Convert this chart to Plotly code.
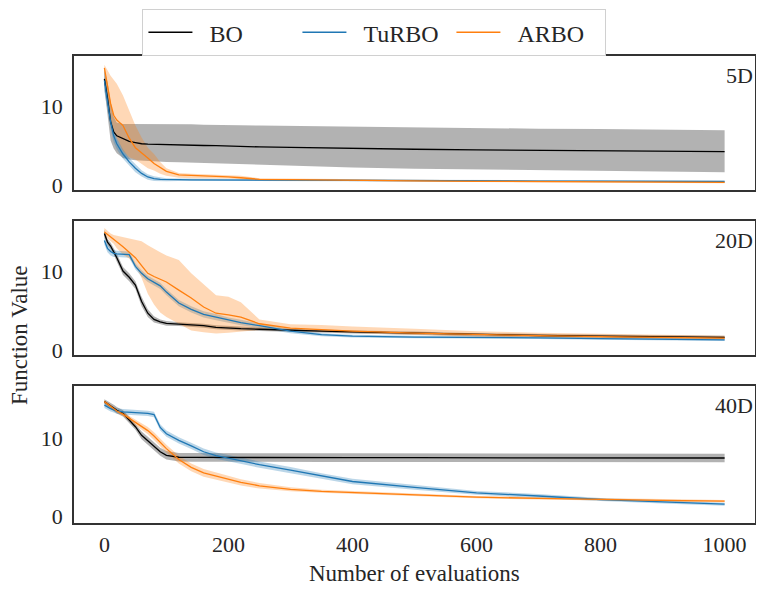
import plotly.graph_objects as go

# evaluation grid shared by all curves
evals = [0, 5, 10, 15, 20, 30, 40, 50, 60, 70, 80, 90, 100, 120, 140, 160, 180, 200,
         220, 250, 300, 350, 400, 500, 600, 700, 800, 900, 1000]

# ---- 5D ----
bo_5d = [13.4, 11.0, 8.0, 6.7, 6.2, 5.9, 5.5, 5.35, 5.2, 5.15, 5.12, 5.1, 5.08, 5.05, 5.0, 4.98, 4.95, 4.9,
         4.85, 4.8, 4.75, 4.68, 4.6, 4.5, 4.43, 4.35, 4.3, 4.25, 4.2]
bo_5d_hi = [14.6, 13.0, 10.5, 8.6, 7.9, 7.7, 7.7, 7.7, 7.7, 7.7, 7.7, 7.7, 7.7, 7.7, 7.65, 7.6, 7.6, 7.6,
            7.55, 7.5, 7.45, 7.4, 7.35, 7.3, 7.2, 7.1, 7.05, 7.0, 6.9]
bo_5d_lo = [12.2, 9.0, 5.6, 4.6, 4.0, 3.4, 3.2, 3.1, 3.05, 3.0, 2.95, 2.9, 2.9, 2.85, 2.8, 2.75, 2.7, 2.65,
            2.6, 2.5, 2.4, 2.3, 2.2, 2.05, 1.95, 1.85, 1.75, 1.65, 1.6]
turbo_5d = [13.2, 10.3, 8.0, 6.2, 5.2, 3.9, 2.9, 2.1, 1.45, 1.0, 0.8, 0.7, 0.66, 0.65, 0.64, 0.63, 0.62, 0.62,
            0.6, 0.6, 0.58, 0.56, 0.55, 0.52, 0.5, 0.48, 0.46, 0.44, 0.42]
turbo_5d_hi = [14.8, 11.3, 8.9, 7.0, 5.9, 4.5, 3.4, 2.6, 1.85, 1.35, 1.1, 0.95, 0.85, 0.8, 0.78, 0.76, 0.75, 0.74,
               0.72, 0.71, 0.69, 0.67, 0.66, 0.63, 0.61, 0.59, 0.57, 0.55, 0.53]
turbo_5d_lo = [11.8, 9.3, 7.1, 5.4, 4.5, 3.3, 2.4, 1.6, 1.05, 0.65, 0.5, 0.45, 0.46, 0.5, 0.5, 0.5, 0.5, 0.5,
               0.48, 0.49, 0.47, 0.45, 0.44, 0.41, 0.39, 0.37, 0.35, 0.33, 0.31]
arbo_5d = [14.8, 12.4, 10.3, 8.8, 8.2, 7.5, 5.9, 4.7, 4.1, 3.4, 2.7, 2.2, 1.7, 1.25, 1.2, 1.15, 1.1, 1.02,
           0.9, 0.7, 0.67, 0.65, 0.6, 0.5, 0.45, 0.4, 0.36, 0.33, 0.3]
arbo_5d_hi = [15.2, 14.5, 13.8, 13.3, 12.8, 11.3, 9.5, 7.5, 6.0, 4.7, 3.9, 2.9, 2.1, 1.5, 1.4, 1.35, 1.3, 1.25,
              1.15, 0.85, 0.8, 0.78, 0.73, 0.63, 0.57, 0.52, 0.48, 0.45, 0.42]
arbo_5d_lo = [14.0, 10.5, 8.0, 6.9, 6.0, 4.3, 3.5, 3.2, 2.6, 2.1, 1.8, 1.4, 1.15, 0.9, 0.85, 0.85, 0.82, 0.8,
              0.7, 0.55, 0.55, 0.53, 0.48, 0.4, 0.35, 0.3, 0.26, 0.23, 0.2]

# ---- 20D ----
bo_20d = [14.9, 13.8, 13.3, 12.6, 11.8, 10.1, 9.3, 8.3, 6.2, 4.7, 3.9, 3.6, 3.4, 3.3, 3.2, 3.1, 2.9, 2.8,
          2.72, 2.65, 2.5, 2.4, 2.3, 2.15, 1.95, 1.85, 1.75, 1.65, 1.6]
bo_20d_hi = [15.4, 14.2, 13.7, 13.0, 12.3, 10.6, 9.8, 8.8, 6.8, 5.2, 4.3, 3.9, 3.7, 3.55, 3.45, 3.35, 3.15, 3.05,
             2.95, 2.88, 2.72, 2.6, 2.5, 2.35, 2.15, 2.05, 1.95, 1.85, 1.8]
bo_20d_lo = [14.4, 13.4, 12.9, 12.2, 11.3, 9.6, 8.8, 7.8, 5.6, 4.2, 3.5, 3.3, 3.1, 3.05, 2.95, 2.85, 2.65, 2.55,
             2.5, 2.42, 2.3, 2.2, 2.1, 1.95, 1.75, 1.65, 1.55, 1.45, 1.4]
turbo_20d = [14.0, 13.0, 12.6, 12.35, 12.3, 12.25, 12.2, 10.7, 9.8, 9.1, 8.6, 8.2, 7.4, 6.0, 5.2, 4.55, 4.2, 3.8,
             3.5, 3.1, 2.4, 1.95, 1.78, 1.65, 1.62, 1.55, 1.45, 1.35, 1.3]
turbo_20d_hi = [14.5, 13.5, 13.1, 12.8, 12.7, 12.65, 12.6, 11.1, 10.2, 9.5, 9.0, 8.6, 7.8, 6.4, 5.6, 4.95, 4.6, 4.15,
                3.85, 3.4, 2.65, 2.15, 1.95, 1.82, 1.78, 1.7, 1.6, 1.5, 1.45]
turbo_20d_lo = [13.5, 12.5, 12.1, 11.9, 11.9, 11.85, 11.8, 10.3, 9.4, 8.7, 8.2, 7.8, 7.0, 5.6, 4.8, 4.15, 3.8, 3.45,
                3.15, 2.8, 2.15, 1.75, 1.6, 1.48, 1.46, 1.4, 1.3, 1.2, 1.15]
arbo_20d = [15.1, 14.8, 14.5, 14.1, 13.8, 13.2, 12.5, 11.8, 10.8, 9.8, 9.4, 9.1, 8.7, 7.65, 6.65, 5.5, 4.7, 4.5,
            4.2, 3.35, 2.8, 2.6, 2.4, 2.15, 1.95, 1.82, 1.7, 1.6, 1.5]
arbo_20d_hi = [15.6, 15.2, 14.9, 14.7, 14.6, 14.4, 14.2, 14.1, 13.9, 13.4, 12.9, 12.5, 12.1, 11.5, 9.8, 8.4, 7.0, 6.8,
               6.1, 3.9, 3.3, 3.2, 3.0, 2.7, 2.4, 2.2, 2.05, 1.9, 1.8]
arbo_20d_lo = [14.6, 14.3, 14.0, 13.6, 13.0, 12.2, 11.7, 10.8, 9.2, 7.2, 5.8, 4.8, 4.2, 3.4, 2.5, 2.25, 2.1, 2.2,
               2.35, 2.55, 2.45, 2.3, 2.15, 1.9, 1.7, 1.6, 1.5, 1.4, 1.3]

# ---- 40D ----
bo_40d = [14.7, 14.4, 14.2, 13.9, 13.6, 13.2, 12.4, 11.5, 10.4, 9.7, 9.0, 8.3, 7.85, 7.6, 7.58, 7.57, 7.56, 7.56,
          7.55, 7.55, 7.55, 7.55, 7.55, 7.54, 7.53, 7.52, 7.52, 7.51, 7.5]
bo_40d_hi = [15.0, 14.8, 14.6, 14.3, 14.0, 13.6, 12.8, 11.9, 10.9, 10.2, 9.5, 8.8, 8.4, 8.15, 8.13, 8.12, 8.11, 8.11,
             8.1, 8.1, 8.1, 8.1, 8.1, 8.09, 8.08, 8.07, 8.07, 8.06, 8.05]
bo_40d_lo = [14.4, 14.0, 13.8, 13.5, 13.2, 12.8, 12.0, 11.1, 9.9, 9.2, 8.5, 7.8, 7.3, 7.05, 7.03, 7.02, 7.01, 7.01,
             7.0, 7.0, 7.0, 7.0, 7.0, 6.99, 6.98, 6.97, 6.97, 6.96, 6.95]
turbo_40d = [14.25, 14.0, 13.8, 13.65, 13.5, 13.4, 13.35, 13.3, 13.25, 13.2, 13.05, 11.4, 10.6, 9.75, 9.05, 8.3, 7.8,
             7.45, 7.1, 6.65, 5.95, 5.2, 4.5, 3.75, 3.05, 2.65, 2.2, 1.9, 1.6]
turbo_40d_hi = [14.6, 14.35, 14.15, 14.0, 13.85, 13.75, 13.7, 13.65, 13.6, 13.55, 13.4, 11.8, 11.0, 10.15, 9.45, 8.7,
                8.2, 7.85, 7.5, 7.05, 6.35, 5.55, 4.85, 4.05, 3.3, 2.9, 2.4, 2.1, 1.8]
turbo_40d_lo = [13.9, 13.65, 13.45, 13.3, 13.15, 13.05, 13.0, 12.95, 12.9, 12.85, 12.7, 11.0, 10.2, 9.35, 8.65, 7.9,
                7.4, 7.05, 6.7, 6.25, 5.55, 4.85, 4.15, 3.45, 2.8, 2.4, 2.0, 1.7, 1.4]
arbo_40d = [14.7, 14.4, 14.0, 13.75, 13.5, 13.1, 12.6, 12.1, 11.6, 11.0, 10.3, 9.5, 8.7, 7.3, 6.3, 5.6, 5.2, 4.8,
            4.4, 3.95, 3.5, 3.25, 3.1, 2.8, 2.5, 2.35, 2.2, 2.1, 2.0]
arbo_40d_hi = [14.9, 14.6, 14.2, 13.95, 13.7, 13.35, 12.9, 12.45, 12.0, 11.45, 10.8, 10.0, 9.2, 7.8, 6.8, 6.1, 5.65,
               5.25, 4.8, 4.3, 3.75, 3.45, 3.3, 2.95, 2.65, 2.5, 2.35, 2.25, 2.15]
arbo_40d_lo = [14.5, 14.2, 13.8, 13.55, 13.3, 12.85, 12.3, 11.75, 11.2, 10.55, 9.8, 9.0, 8.2, 6.8, 5.8, 5.1, 4.75,
               4.35, 4.0, 3.6, 3.25, 3.05, 2.9, 2.65, 2.35, 2.2, 2.05, 1.95, 1.85]

panel_names = ["5D", "20D", "40D"]
x_ticks = [0, 200, 400, 600, 800, 1000]
y_ticks = [0, 10]

colors = {"BO": "#000000", "TuRBO": "#1f77b4", "ARBO": "#ff7f0e"}
bands = {"BO": "rgba(0,0,0,0.3)", "TuRBO": "rgba(31,119,180,0.3)", "ARBO": "rgba(255,127,14,0.3)"}

panels = [
    {"BO": (bo_5d, bo_5d_lo, bo_5d_hi), "TuRBO": (turbo_5d, turbo_5d_lo, turbo_5d_hi),
     "ARBO": (arbo_5d, arbo_5d_lo, arbo_5d_hi)},
    {"BO": (bo_20d, bo_20d_lo, bo_20d_hi), "TuRBO": (turbo_20d, turbo_20d_lo, turbo_20d_hi),
     "ARBO": (arbo_20d, arbo_20d_lo, arbo_20d_hi)},
    {"BO": (bo_40d, bo_40d_lo, bo_40d_hi), "TuRBO": (turbo_40d, turbo_40d_lo, turbo_40d_hi),
     "ARBO": (arbo_40d, arbo_40d_lo, arbo_40d_hi)},
]

FONT = "Liberation Serif, DejaVu Serif, serif"
TXT = "#262626"
PAD = "\u00a0\u00a0"  # gap between legend line and its label

fig = go.Figure()

for i, data in enumerate(panels):
    xa = "x" if i == 0 else f"x{i + 1}"
    ya = "y" if i == 0 else f"y{i + 1}"
    # shaded bands first
    for name in ["BO", "TuRBO", "ARBO"]:
        mean, lo, hi = data[name]
        fig.add_trace(go.Scatter(x=evals, y=hi, xaxis=xa, yaxis=ya, mode="lines",
                                 line=dict(width=0), showlegend=False, hoverinfo="skip"))
        fig.add_trace(go.Scatter(x=evals, y=lo, xaxis=xa, yaxis=ya, mode="lines",
                                 line=dict(width=0), fill="tonexty", fillcolor=bands[name],
                                 showlegend=False, hoverinfo="skip"))
    for name in ["BO", "TuRBO", "ARBO"]:
        mean, lo, hi = data[name]
        fig.add_trace(go.Scatter(x=evals, y=mean, xaxis=xa, yaxis=ya, mode="lines",
                                 line=dict(color=colors[name], width=1.3), name=PAD + name,
                                 showlegend=(i == 0)))

domains = [[0.7131, 1.0], [0.3597, 0.6467], [0.0, 0.2934]]
yranges = [[-0.65, 16.3], [-0.65, 16.5], [-0.8, 16.7]]

axis_common = dict(showline=True, mirror=True, linecolor="#333333", linewidth=1.5,
                   showgrid=False, zeroline=False, ticks="",
                   tickfont=dict(family=FONT, size=22, color=TXT))

# the page body adds an 8px offset, so the figure is 8px smaller on each side
layout = dict(
    width=756, height=582,
    margin=dict(l=66, r=9, t=48, b=67, autoexpand=False),
    plot_bgcolor="white", paper_bgcolor="white",
    font=dict(family=FONT, color=TXT),
    showlegend=True,
    legend=dict(orientation="h", xref="container", yref="container",
                x=0.4847, xanchor="center", y=0.998, yanchor="top",
                traceorder="normal",
                bordercolor="#d0d0d0", borderwidth=1, bgcolor="white",
                font=dict(family=FONT, size=24, color=TXT),
                entrywidth=95, itemwidth=44),
)

for i in range(3):
    sx = "" if i == 0 else str(i + 1)
    layout[f"xaxis{sx}"] = dict(axis_common, domain=[0, 1], range=[-49, 1049],
                                anchor=f"y{sx}", tickvals=x_ticks,
                                showticklabels=(i == 2), ticklabelstandoff=1,
                                **({} if i == 0 else {"matches": "x"}))
    layout[f"yaxis{sx}"] = dict(axis_common, domain=domains[i], range=yranges[i],
                                anchor=f"x{sx}", tickvals=y_ticks, ticklabelstandoff=5)

fig.update_layout(**layout)

for i, name in enumerate(panel_names):
    sx = "" if i == 0 else str(i + 1)
    fig.add_annotation(text=name, xref=f"x{sx} domain", yref=f"y{sx} domain",
                       x=1, y=1, xanchor="right", yanchor="top", xshift=0, yshift=-5,
                       showarrow=False, font=dict(family=FONT, size=22, color=TXT))

fig.add_annotation(text="Number of evaluations", xref="paper", yref="paper",
                   x=0.5, y=-0.109, xanchor="center", yanchor="middle",
                   showarrow=False, font=dict(family=FONT, size=23, color=TXT))
fig.add_annotation(text="Function Value", xref="paper", yref="paper",
                   x=-0.0793, y=0.4026, xanchor="center", yanchor="middle", textangle=-90,
                   showarrow=False, font=dict(family=FONT, size=23, color=TXT))

fig.write_html("out.html")
